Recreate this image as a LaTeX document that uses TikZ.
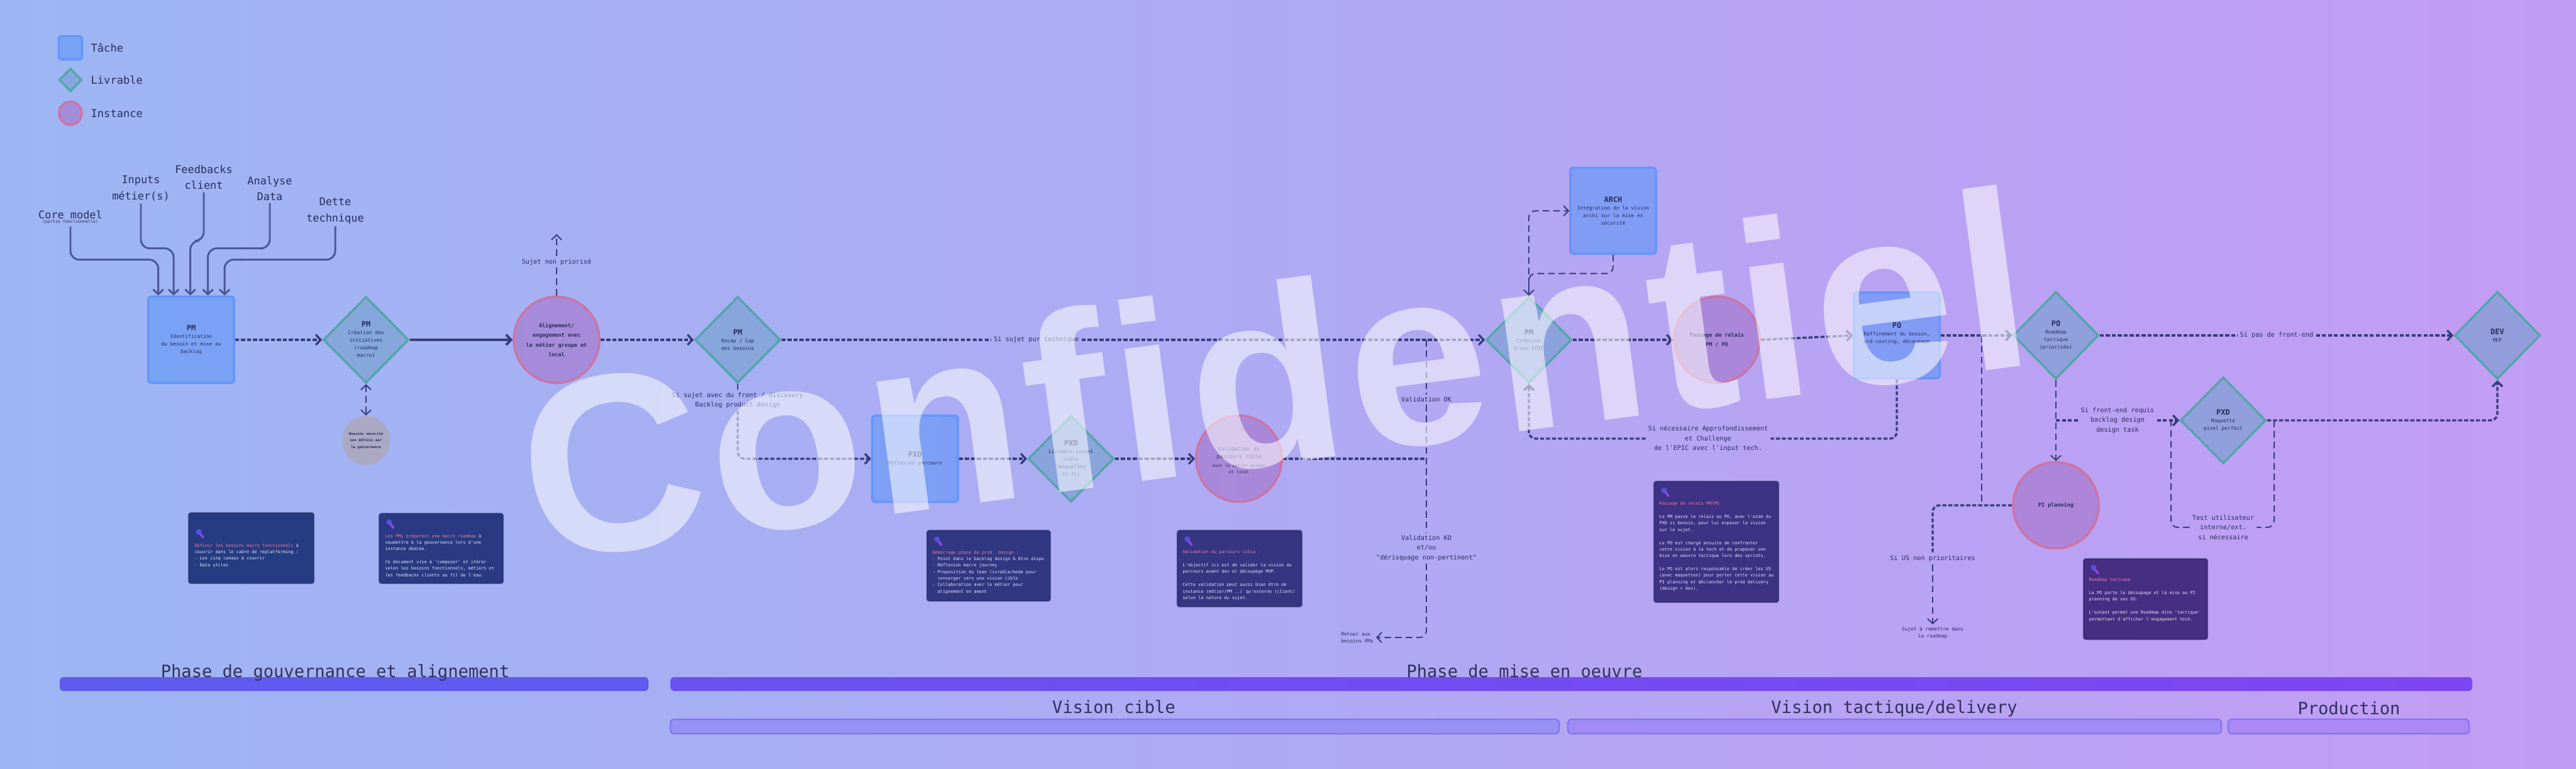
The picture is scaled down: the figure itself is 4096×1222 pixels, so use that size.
\documentclass[tikz,border=0pt]{standalone}
\usepackage{fontspec}
\newfontfamily\mono{DejaVu Sans Mono}
\newfontfamily\wmfont{Liberation Sans}[LetterSpace=2.2]
\usetikzlibrary{shapes.geometric,arrows.meta,calc}
\definecolor{bgL}{RGB}{157,182,243}
\definecolor{bgR}{RGB}{194,156,243}
\definecolor{taskF}{RGB}{95,150,245}
\definecolor{taskB}{RGB}{100,150,250}
\definecolor{delF}{RGB}{115,160,205}
\definecolor{delB}{RGB}{85,165,170}
\definecolor{instF}{RGB}{165,115,200}
\definecolor{instB}{RGB}{205,115,165}
\definecolor{greyF}{RGB}{172,168,190}
\definecolor{lnC}{RGB}{55,60,120}
\definecolor{inC}{RGB}{75,88,150}
\definecolor{txt}{RGB}{40,45,95}
\definecolor{phC}{RGB}{48,48,98}
\definecolor{noteA}{RGB}{38,60,130}
\definecolor{noteB}{RGB}{41,58,130}
\definecolor{noteC}{RGB}{50,55,130}
\definecolor{noteD}{RGB}{53,53,130}
\definecolor{noteE}{RGB}{62,50,132}
\definecolor{noteF}{RGB}{70,46,130}
\definecolor{noteEdge}{RGB}{30,35,90}
\definecolor{noteHead}{RGB}{232,128,160}
\definecolor{noteTxt}{RGB}{228,230,248}
\definecolor{iconA}{RGB}{85,80,225}
\definecolor{iconB}{RGB}{140,70,235}
\definecolor{barA}{RGB}{95,90,240}
\definecolor{barB}{RGB}{105,82,240}
\definecolor{barC}{RGB}{126,70,242}
\definecolor{subA}{RGB}{150,145,242}
\definecolor{subB}{RGB}{160,140,244}
\definecolor{subC}{RGB}{172,136,245}
\definecolor{subD}{RGB}{130,115,245}
\newcommand\notehead[1]{\textcolor{noteHead}{#1}}
\newcommand\nodetitle[1]{{\fontsize{3.4pt}{4.2pt}\selectfont\bfseries #1}}
\tikzset{
  task/.style={rectangle, rounded corners=1.2pt, draw=taskB, line width=1pt, fill=taskF, fill opacity=0.6, minimum width=1.36cm, minimum height=1.37cm, inner sep=0pt},
  deliv/.style={diamond, draw=delB, line width=1pt, fill=delF, fill opacity=0.6, minimum width=1.36cm, minimum height=1.37cm, inner sep=0pt},
  inst/.style={ellipse, draw=instB, line width=1pt, fill=instF, fill opacity=0.6, minimum width=1.36cm, minimum height=1.37cm, inner sep=0pt},
  greyinst/.style={ellipse, fill=greyF, fill opacity=0.9, minimum width=0.76cm, minimum height=0.78cm, inner sep=0pt},
  st/.style={font=\mono\fontsize{2.25pt}{3.4pt}\selectfont, align=center, text=txt, inner sep=0pt},
  stb/.style={font=\mono\bfseries\fontsize{2.4pt}{4.4pt}\selectfont, align=center, text=txt, inner sep=0pt},
  lbl/.style={font=\mono\fontsize{2.9pt}{4.4pt}\selectfont, align=center, text=txt, inner sep=1pt},
  lbls/.style={font=\mono\fontsize{2.2pt}{3.2pt}\selectfont, align=center, text=txt, inner sep=1pt},
  leg/.style={font=\mono\fontsize{4.85pt}{6pt}\selectfont, text=txt, anchor=west, inner sep=0pt},
  inlbl/.style={font=\mono\fontsize{4.8pt}{7.2pt}\selectfont, align=center, text=txt, inner sep=1pt},
  phase/.style={font=\mono\fontsize{7.7pt}{9pt}\selectfont, text=phC, anchor=base, inner sep=0pt},
  note/.style={rectangle, rounded corners=1pt, draw=noteEdge, draw opacity=0.5, line width=0.6pt, inner sep=0pt},
  ntxt/.style={font=\mono\fontsize{1.95pt}{2.95pt}\selectfont, text=noteTxt, align=left, anchor=north west, inner sep=0pt},
  tip/.style={-{Straight Barb[length=2.2pt,width=4.6pt]}},
  tips/.style={{Straight Barb[length=2.2pt,width=4.6pt]}-{Straight Barb[length=2.2pt,width=4.6pt]}},
  flow/.style={draw=lnC, line width=0.95pt, dash pattern=on 1.8pt off 0.9pt, rounded corners=3pt},
  dsh/.style={draw=lnC, line width=0.55pt, dash pattern=on 3pt off 1.8pt, rounded corners=3pt},
  solidln/.style={draw=lnC, line width=1.1pt},
  inpath/.style={draw=inC, line width=0.85pt, rounded corners=4pt},
}
\begin{document}
\begin{tikzpicture}[x=0.01cm, y=-0.01cm]
\useasboundingbox (0,0) rectangle (4096,1222);
\shade[left color=bgL, right color=bgR] (0,0) rectangle (4096,1222);

% ---------- phase bars ----------
\fill[barA, rounded corners=1.5pt] (95,1076) rectangle (1031,1098);
\shade[left color=barB, right color=barC, rounded corners=1.5pt] (1066,1076) rectangle (3931,1098);
\draw[subD, fill=subA, line width=0.6pt, rounded corners=1.5pt] (1066,1143) rectangle (2479,1166);
\draw[subD, fill=subB, line width=0.6pt, rounded corners=1.5pt] (2493,1143) rectangle (3532,1166);
\draw[subD, fill=subC, line width=0.6pt, rounded corners=1.5pt] (3543,1143) rectangle (3926,1166);
\node[phase] (ph1) at (533,1076) {Phase de gouvernance et alignement};
\node[phase] (ph2) at (2424,1076) {Phase de mise en oeuvre};
\node[phase] (ph3) at (1771,1133) {Vision cible};
\node[phase] (ph4) at (3012,1133) {Vision tactique/delivery};
\node[phase] (ph5) at (3735,1135) {Production};

% ---------- legend ----------
\node[task, minimum width=0.37cm, minimum height=0.37cm] (lgT) at (112,76) {};
\node[leg] (lgTt) at (144,76) {Tâche};
\node[deliv, minimum width=0.36cm, minimum height=0.37cm] (lgD) at (112,127) {};
\node[leg] (lgDt) at (144,127) {Livrable};
\node[inst, minimum width=0.36cm, minimum height=0.37cm] (lgI) at (112,180) {};
\node[leg] (lgIt) at (144,180) {Instance};

% ---------- notes ----------
\node[note, fill=noteA, minimum width=1.99cm, minimum height=1.12cm] (n1) at (399.5,871) {};
\node[note, fill=noteB, minimum width=1.97cm, minimum height=1.11cm] (n2) at (701.5,871.5) {};
\node[note, fill=noteC, minimum width=1.96cm, minimum height=1.12cm] (n3) at (1572,899) {};
\node[note, fill=noteD, minimum width=1.98cm, minimum height=1.21cm] (n4) at (1971,903.5) {};
\node[note, fill=noteE, minimum width=1.98cm, minimum height=1.92cm] (n5) at (2729,861) {};
\node[note, fill=noteF, minimum width=1.97cm, minimum height=1.28cm] (n6) at (3411.5,952) {};
\foreach \n/\dy in {n1/31,n2/15,n3/15,n4/15,n5/15,n6/15}{
  \fill[iconA] ($(\n.north west)+(17,\dy)$) circle (0.045cm);
  \draw[iconB, line width=1pt, line cap=round] ($(\n.north west)+(19,\dy+3)$) -- ($(\n.north west)+(24,\dy+9)$);
}
\node[ntxt] (n1t) at ($(n1.north west)+(10,49)$) {\notehead{Définir les besoins macro fonctionnels} à\\couvrir dans le cadre de replatforming :\\- Les cinq canaux à couvrir\\- Data utiles};
\node[ntxt] (n2t) at ($(n2.north west)+(10,33)$) {\notehead{Les PMs préparent une macro roadmap} à\\soumettre à la gouvernance lors d'une\\instance dédiée.\\[2.95pt]Ce document vise à 'composer' et itérer\\selon les besoins fonctionnels, métiers et\\les feedbacks clients au fil de l'eau.};
\node[ntxt] (n3t) at ($(n3.north west)+(9,32)$) {\notehead{Démarrage phase de prod. design :}\\- Point dans le backlog design \& être dispo\\- Réflexion macro journey\\- Proposition du lean livrable/mode pour\\\phantom{- }converger vers une vision cible\\- Collaboration avec le métier pour\\\phantom{- }alignement en amont};
\node[ntxt] (n4t) at ($(n4.north west)+(9,32)$) {\notehead{Validation du parcours cible :}\\[2.95pt]L'objectif ici est de valider la vision du\\parcours avant dev et découpage MVP.\\[2.95pt]Cette validation peut aussi bien être de\\instance (métier/PM ..) qu'externe (client)\\selon la nature du sujet.};
\node[ntxt] (n5t) at ($(n5.north west)+(9,33)$) {\notehead{Passage de relais PM/PO}\\[2.95pt]Le PM passe le relais au PO, avec l'aide du\\PXD si besoin, pour lui exposer la vision\\sur le sujet.\\[2.95pt]Le PO est chargé ensuite de confronter\\cette vision à la tech et de proposer une\\mise en oeuvre tactique lors des sprints.\\[2.95pt]Le PO est alors responsable de créer les US\\(avec maquettes) pour porter cette vision au\\PI planning et déclencher le prod delivery\\(design + dev).};
\node[ntxt] (n6t) at ($(n6.north west)+(9,31)$) {\notehead{Roadmap tactique}\\[2.95pt]Le PO porte le découpage et la mise au PI\\planning de ses US.\\[2.95pt]L'output permet une Roadmap dite 'tactique'\\permettant d'afficher l'engagement tech.};

% ---------- shapes ----------
\node[task] (pm) at (304,540) {};
\node[deliv] (d1) at (582,540) {};
\node[inst] (c1) at (885,540) {};
\node[greyinst] (grey) at (582,700) {};
\node[deliv] (d2) at (1173,540) {};
\node[task] (pxd) at (1455,729) {};
\node[deliv] (d3) at (1703,729) {};
\node[inst] (c3) at (1970,729) {};
\node[deliv] (epic) at (2431,540) {};
\node[task, minimum height=1.36cm] (arch) at (2565,335) {};
\node[inst] (relais) at (2730,540) {};
\node[task, minimum height=1.36cm] (po) at (3016,533) {};
\node[deliv, minimum height=1.39cm] (pi) at (3269,533) {};
\node[inst] (piplan) at (3269,803) {};
\node[deliv] (pxd2) at (3535,668) {};
\node[deliv, minimum height=1.39cm] (dev) at (3971,533) {};

% ---------- shape texts ----------
\node[st] (pmT) at (pm) {\nodetitle{PM}\\Identification\\du besoin et mise au\\backlog};
\node[st] (d1T) at (d1) {\nodetitle{PM}\\Création des\\initiatives\\(roadmap\\macro)};
\node[stb] (c1T) at (c1) {Alignement/\\engagement avec\\le métier groupe et\\local};
\node[font=\mono\bfseries\fontsize{1.6pt}{3pt}\selectfont, align=center, text=txt, inner sep=0pt] (greyT) at (grey) {Besoins sécurité\\non définis par\\la gouvernance};
\node[st] (d2T) at (d2) {\nodetitle{PM}\\Recap / Cap\\des besoins};
\node[st] (pxdT) at (pxd) {\nodetitle{PXD}\\Réflexion parcours};
\node[st] (d3T) at (d3) {\nodetitle{PXD}\\Livrable visuel\\cible\\(maquettes\\lo-fi)};
\node[st, font=\mono\fontsize{2.4pt}{3.6pt}\selectfont] (c3T) at (1970,720) {Validation du\\parcours cible};
\node[st, font=\mono\fontsize{1.9pt}{2.8pt}\selectfont] (c3T2) at (1970,745) {Avec le métier groupe\\et local};
\node[st] (epicT) at (epic) {\nodetitle{PM}\\Création\\d'une EPIC};
\node[st] (archT) at (arch) {\nodetitle{ARCH}\\Intégration de la vision\\archi sur la mise en\\sécurité};
\node[stb] (relaisT) at (relais) {Passage de relais\\PM / PO};
\node[st] (poT) at ($(po)+(0,-3)$) {\nodetitle{PO}\\Raffinement du besoin,\\pré-costing, découpage};
\node[st] (piT) at (pi) {\nodetitle{PO}\\Roadmap\\tactique\\(priorisée)};
\node[stb] (piplanT) at (piplan) {PI planning};
\node[st] (pxd2T) at (pxd2) {\nodetitle{PXD}\\Maquette\\pixel perfect};
\node[st] (devT) at (dev) {\nodetitle{DEV}\\MEP};

% ---------- inputs ----------
\node[inlbl] (core) at (112,345) {Core model\\[-5.2pt]{\fontsize{1.9pt}{2.2pt}\selectfont (partie fonctionnelle)}};
\node[inlbl] (inp) at (224,299.5) {Inputs\\métier(s)};
\node[inlbl] (fb) at (324,282) {Feedbacks\\client};
\node[inlbl] (an) at (429,299.5) {Analyse\\Data};
\node[inlbl] (dt) at (533,335) {Dette\\technique};
\coordinate (pmA) at ($(pm.north west)!0.125!(pm.north east)$);
\coordinate (pmB) at ($(pm.north west)!0.30!(pm.north east)$);
\coordinate (pmC) at ($(pm.north west)!0.49!(pm.north east)$);
\coordinate (pmD) at ($(pm.north west)!0.69!(pm.north east)$);
\coordinate (pmE) at ($(pm.north west)!0.88!(pm.north east)$);
\draw[inpath, tip] (core.south) |- ($(pmA)+(0,-57)$) -- (pmA);
\draw[inpath, tip] (inp.south) |- ($(pmB)+(0,-75)$) -- (pmB);
\draw[inpath, tip] (fb.south) |- ($(pmC)+(0,-87)$) -- (pmC);
\draw[inpath, tip] (an.south) |- ($(pmD)+(0,-75)$) -- (pmD);
\draw[inpath, tip] (dt.south) |- ($(pmE)+(0,-57)$) -- (pmE);

% ---------- labels ----------
\node[lbl] (nonprio) at (885,416) {Sujet non priorisé};
\coordinate (upend) at (885,372);
\node[lbl] (techlbl) at (1648,540) {Si sujet pur technique};
\node[lbl] (frontlbl) at (1173,636) {Si sujet avec du front / discovery\\Backlog product design};
\node[lbl] (valok) at (2268,635) {Validation OK};
\node[lbl] (valko) at (2268,871) {Validation KO\\et/ou\\"dérisquage non-pertinent"};
\node[lbls, anchor=east, align=left] (retour) at (2188,1013) {Retour aux\\besoins PMs};
\node[lbl] (approf) at (2716,697) {Si nécessaire Approfondissement\\et Challenge\\de l'EPIC avec l'input tech.};
\node[lbl] (usnp) at (3073,888) {Si US non prioritaires};
\node[lbls] (remettre) at (3073,1006) {Sujet à remettre dans\\la roadmap};
\node[lbl] (pasfront) at (3620,533) {Si pas de front-end};
\node[lbl] (frlbl) at (3367,668) {Si front-end requis\\backlog design\\design task};
\node[lbl] (testlbl) at (3535,838) {Test utilisateur\\interne/ext.\\si nécessaire};

% ---------- connectors ----------
\draw[flow, tip] (pm.east) -- (d1.west);
\draw[solidln, tip] (d1.east) -- (c1.west);
\draw[dsh, tips] (d1.south) -- (grey.north);
\draw[dsh] (c1.north) -- (nonprio.south);
\draw[dsh, tip] (nonprio.north) -- (upend);
\draw[flow, tip] (c1.east) -- (d2.west);
\draw[flow] (d2.east) -- (techlbl.west);
\draw[flow, tip] (techlbl.east) -- (epic.west);
\draw[dsh] (d2.south) -- (frontlbl.north);
\draw[flow, tip] (frontlbl.south) |- (pxd.west);
\draw[flow, tip] (pxd.east) -- (d3.west);
\draw[flow, tip] (d3.east) -- (c3.west);
\coordinate (vtop) at (2268,540);
\coordinate (vjoin) at (2268,729);
\draw[flow] (c3.east) -- (vjoin);
\draw[dsh] (vtop) -- (valok.north);
\draw[dsh] (valok.south) -- (valko.north);
\draw[dsh, tip] (valko.south) |- (retour.east);
\draw[dsh, tip] (epic.north) |- (arch.west);
\draw[dsh, tip] (arch.south) |- ($(epic.north)+(0,-35)$) -- (epic.north);
\draw[flow, tip] (epic.east) -- (relais.west);
\draw[flow, tip] (relais.east) -- (po.west);
\draw[flow] (po.south) |- (approf.east);
\draw[flow, tip] (approf.west) -| (epic.south);
\draw[flow, tip] (po.east) -- (pi.west);
\coordinate (j1) at (3151,533);
\coordinate (j2) at (3151,803);
\draw[dsh] (j1) -- (j2);
\draw[dsh, tip] (pi.south) -- (piplan.north);
\draw[flow] (piplan.west) -| (usnp.north);
\draw[dsh, tip] (usnp.south) -- (remettre.north);
\draw[flow] (pi.east) -- (pasfront.west);
\draw[flow, tip] (pasfront.east) -- (dev.west);
\coordinate (fr0) at (3269,668);
\draw[flow] (fr0) -- (frlbl.west);
\draw[flow, tip] (frlbl.east) -- (pxd2.west);
\draw[flow, tip] (pxd2.east) -| (dev.south);
\coordinate (lpR) at (3616,668);
\coordinate (lpL) at (3452,668);
\draw[dsh] (lpR) |- (testlbl.east);
\draw[dsh] (testlbl.west) -| (lpL);

% ---------- watermark ----------
\node[rotate=7.5, anchor=base, text=white, text opacity=0.55, font=\wmfont\bfseries\fontsize{114pt}{114pt}\selectfont, inner sep=0pt] (wm) at (2045,735) {Confidentiel};
\end{tikzpicture}
\end{document}
